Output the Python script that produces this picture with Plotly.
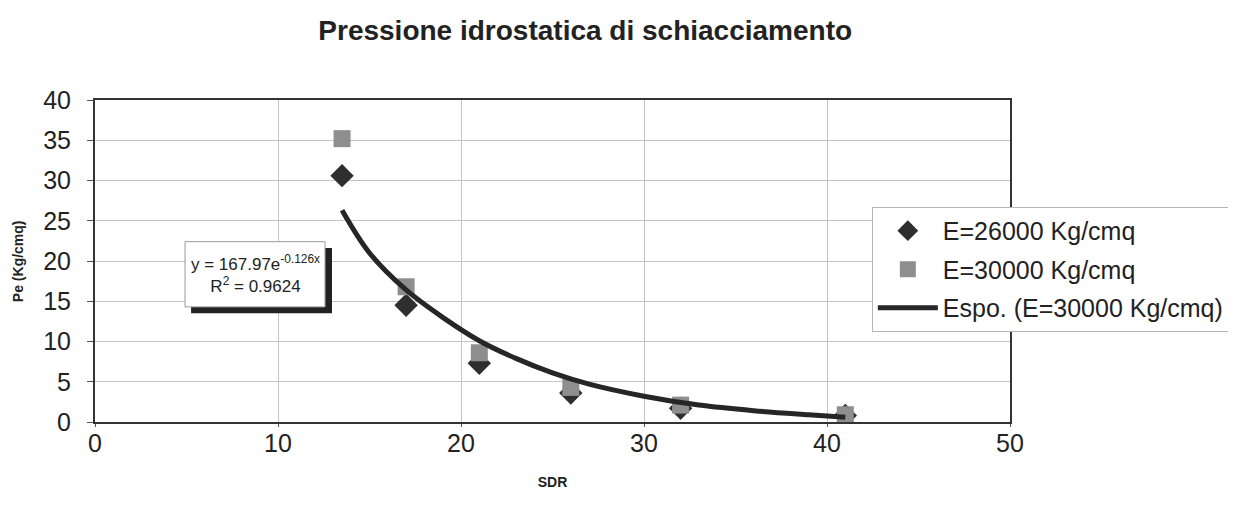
import plotly.graph_objects as go

# Data
sdr = [13.5, 17, 21, 26, 32, 41]
pe_26000 = [30.6, 14.5, 7.3, 3.6, 1.7, 0.8]
pe_30000 = [35.2, 16.8, 8.6, 4.3, 2.1, 0.9]

# Trend line (exponential) as drawn in the picture
trend_x = [13.5, 15, 17, 19, 21, 23, 25, 27, 30, 33, 36, 39, 41]
trend_y = [26.3, 21.0, 16.4, 13.0, 10.1, 7.9, 6.1, 4.7, 3.2, 2.1, 1.4, 0.9, 0.6]

x_ticks = [0, 10, 20, 30, 40, 50]
y_ticks = [0, 5, 10, 15, 20, 25, 30, 35, 40]

FONT = "Liberation Sans, Arial, sans-serif"

fig = go.Figure()
fig.add_trace(go.Scatter(
    x=sdr, y=pe_26000, mode="markers", name="E=26000 Kg/cmq",
    legendgroup="a",
    marker=dict(symbol="diamond", size=18, color="#2e2e2e"),
))
fig.add_trace(go.Scatter(
    x=sdr, y=pe_30000, mode="markers", name="E=30000 Kg/cmq",
    legendgroup="b",
    marker=dict(symbol="square", size=17, color="#8e8e8e"),
))
fig.add_trace(go.Scatter(
    x=trend_x, y=trend_y, mode="lines", name="Espo. (E=30000 Kg/cmq)",
    legendgroup="c",
    line=dict(color="#262626", width=5, shape="spline"),
))

# Trendline label box with shadow
fig.add_shape(type="rect", xref="x", yref="y", x0=5.25, x1=12.95, y0=13.5, y1=21.6,
              fillcolor="#222222", line=dict(width=0), layer="above")
fig.add_shape(type="rect", xref="x", yref="y", x0=4.92, x1=12.57, y0=14.3, y1=22.4,
              fillcolor="white", line=dict(color="#9a9a9a", width=1), layer="above")
fig.add_annotation(x=8.75, y=18.35, xref="x", yref="y",
                   text="y = 167.97e<sup>-0.126x</sup><br>R<sup>2</sup> = 0.9624",
                   showarrow=False, align="center",
                   font=dict(family=FONT, size=17, color="#222222"))

# Y axis title
fig.add_annotation(x=-0.084, y=0.5, xref="paper", yref="paper",
                   text="<b>Pe (Kg/cmq)</b>", textangle=-90, showarrow=False,
                   xanchor="center", yanchor="middle",
                   font=dict(family=FONT, size=14, color="#222222"))

fig.update_layout(
    width=1236, height=511,
    margin=dict(l=87, r=234, t=92, b=97, autoexpand=False),
    paper_bgcolor="white", plot_bgcolor="white",
    title=dict(text="<b>Pressione idrostatica di schiacciamento</b>",
               x=0.467, xanchor="center", y=0.957, yanchor="middle",
               font=dict(family=FONT, size=28, color="#222222")),
    font=dict(family=FONT, color="#222222"),
    legend=dict(x=0.849, y=0.668, xanchor="left", yanchor="top",
                bgcolor="white", bordercolor="#b5b5b5", borderwidth=1,
                font=dict(family=FONT, size=25, color="#222222"),
                itemwidth=60, tracegroupgap=3, traceorder="grouped"),
    showlegend=True,
)
fig.update_xaxes(range=[0, 50], tickvals=x_ticks, showgrid=True, gridcolor="#c4c4c4",
                 gridwidth=1, showline=True, linecolor="#333333", linewidth=2, mirror=True,
                 ticks="outside", ticklen=3, tickcolor="#555555", zeroline=False,
                 ticklabelstandoff=-5, automargin=False,
                 tickfont=dict(family=FONT, size=25, color="#222222"),
                 title=dict(text="<b>SDR</b>", standoff=21,
                            font=dict(family=FONT, size=14, color="#222222")))
fig.update_yaxes(range=[0, 40], tickvals=y_ticks, showgrid=True, gridcolor="#c4c4c4",
                 gridwidth=1, showline=True, linecolor="#333333", linewidth=2, mirror=True,
                 ticks="outside", ticklen=6, tickcolor="#555555", zeroline=False,
                 ticklabelstandoff=11, automargin=False,
                 tickfont=dict(family=FONT, size=25, color="#222222"))

fig.write_html("out.html")
